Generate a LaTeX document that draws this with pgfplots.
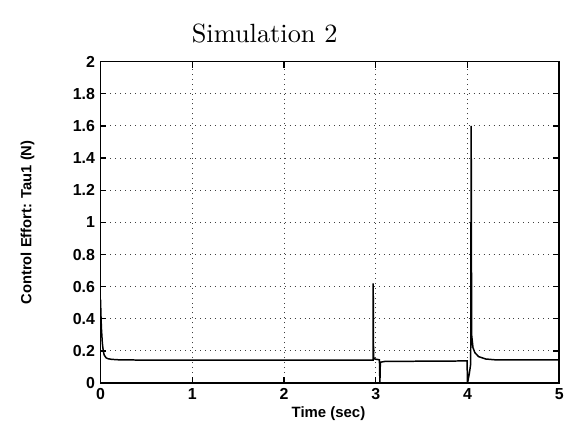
\documentclass[border=0pt]{standalone}
\usepackage{fontspec}
\usepackage{pgfplots}
\pgfplotsset{compat=1.18}
\newfontfamily\hv{Liberation Sans}
\newfontfamily\lmten{lmroman10-regular}[Extension=.otf]
\begin{document}
\begin{tikzpicture}
\begin{axis}[
  scale only axis,
  width=461pt, height=323pt,
  xmin=0, xmax=5, ymin=0, ymax=2,
  xtick={0,1,2,3,4,5},
  ytick={0,0.2,0.4,0.6,0.8,1,1.2,1.4,1.6,1.8,2},
  yticklabels={0,0.2,0.4,0.6,0.8,1,1.2,1.4,1.6,1.8,2},
  xticklabels={0,1,2,3,4,5},
  /pgf/number format/assume math mode=true,
  ticklabel style={font=\hv\bfseries\fontsize{16}{16}\selectfont},
  yticklabel style={xshift=-2pt},
  xticklabel style={yshift=-2pt},
  tick align=inside,
  major tick length=6pt,
  tick style={line width=1.3pt, black},
  axis line style={line width=1.6pt},
  grid=major,
  major grid style={line width=1pt, black!75, dash pattern=on 1pt off 4pt},
  xlabel={Time (sec)},
  ylabel={Control Effort: Tau1 (N)},
  xlabel style={font=\hv\bfseries\fontsize{15}{15}\selectfont, at={(axis description cs:0.497,-0.095)}, anchor=center},
  ylabel style={font=\hv\bfseries\fontsize{14.8}{14.8}\selectfont, at={(axis description cs:-0.159,0.5)}, anchor=center},
]
\addplot[black, line width=1.5pt] table {
0 0.52
0.005 0.42
0.01 0.34
0.02 0.25
0.03 0.2
0.04 0.175
0.06 0.158
0.08 0.152
0.12 0.148
0.2 0.145
0.5 0.143
1 0.143
2 0.143
2.97 0.143
2.972 0.62
2.976 0.16
2.99 0.15
3.04 0.145
3.045 0.0
3.05 0.13
3.1 0.135
3.99 0.138
3.995 0.138
4.0 0.0
4.02 0.06
4.035 0.12
4.04 1.6
4.045 0.3
4.06 0.22
4.08 0.19
4.12 0.165
4.2 0.15
4.3 0.145
5 0.145
};
\end{axis}
\path (current axis.north west) ++(165pt,28pt) node[font=\lmten\fontsize{26.5}{30}\selectfont, anchor=center] {Simulation 2};
\path (current axis.south west) ++(-101pt,-48pt) coordinate (bbsw);
\path (current axis.north east) ++(5pt,62pt) coordinate (bbne);
\path[use as bounding box] (bbsw) rectangle (bbne);
\end{tikzpicture}
\end{document}
